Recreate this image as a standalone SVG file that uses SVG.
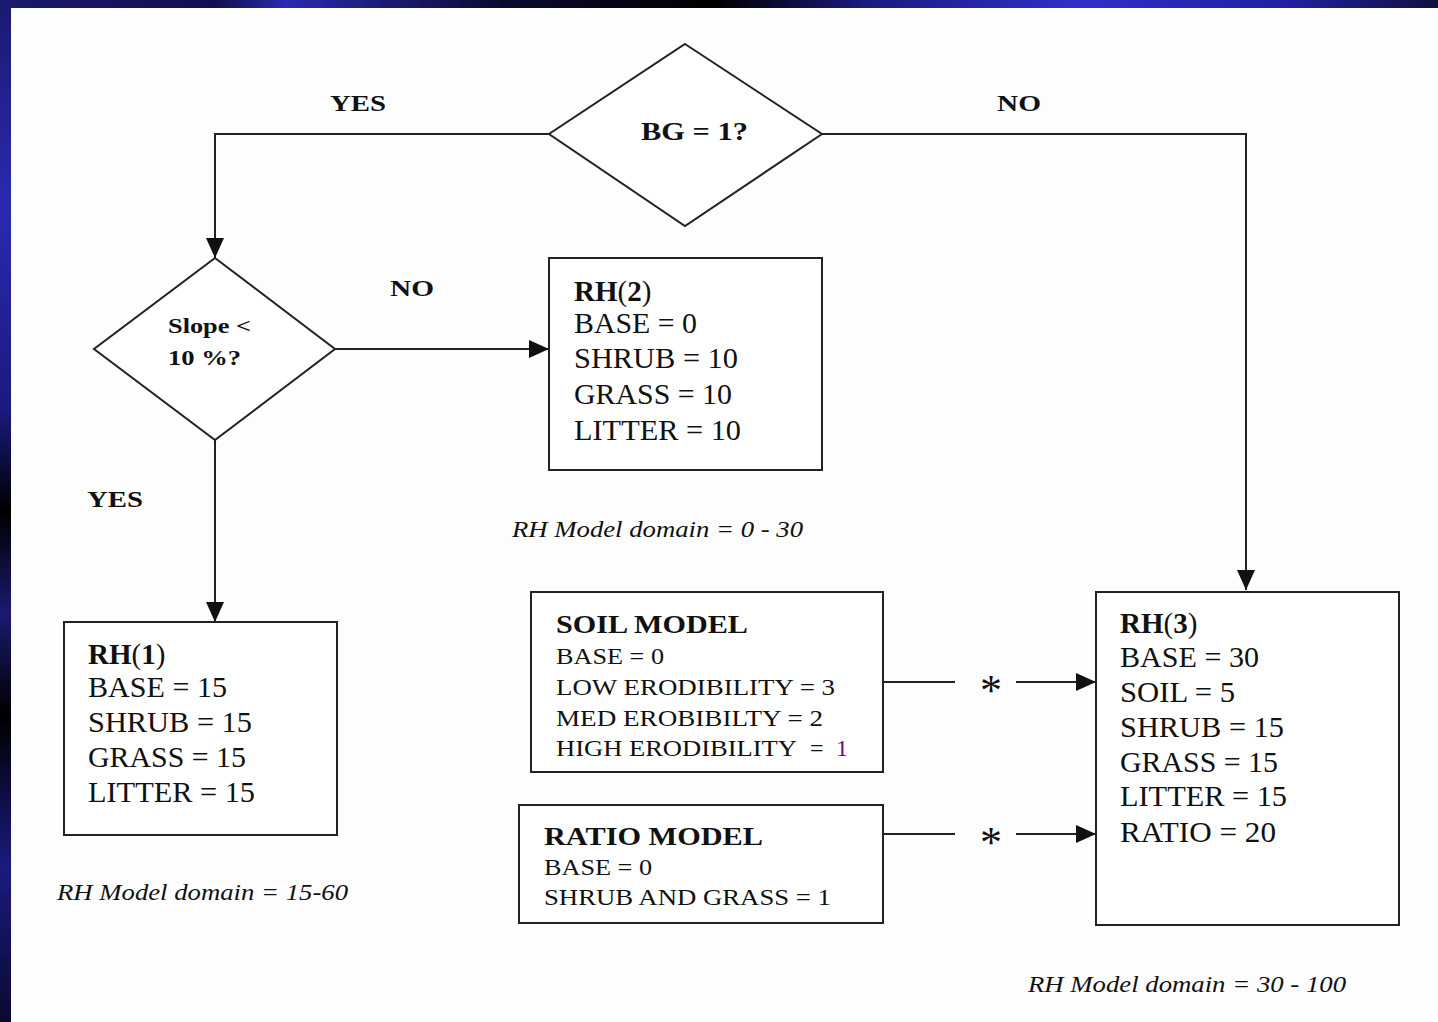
<svg xmlns="http://www.w3.org/2000/svg" width="1438" height="1022" viewBox="0 0 1438 1022">
<defs>
<linearGradient id="topg" x1="0" y1="0" x2="1" y2="0">
<stop offset="0" stop-color="#1a1a70"/><stop offset="0.15" stop-color="#101050"/><stop offset="0.2" stop-color="#2a2ab0"/><stop offset="0.35" stop-color="#0a0a30"/><stop offset="0.5" stop-color="#000"/><stop offset="0.6" stop-color="#1a1a80"/><stop offset="0.75" stop-color="#3030c8"/><stop offset="0.9" stop-color="#2020a0"/><stop offset="1" stop-color="#101040"/>
</linearGradient>
<linearGradient id="leftg" x1="0" y1="0" x2="0" y2="1">
<stop offset="0" stop-color="#1a1a70"/><stop offset="0.2" stop-color="#2a2ab0"/><stop offset="0.4" stop-color="#1a1a80"/><stop offset="0.5" stop-color="#000"/><stop offset="0.6" stop-color="#1a1a70"/><stop offset="0.7" stop-color="#000"/><stop offset="0.85" stop-color="#1a1a80"/><stop offset="1" stop-color="#0a0a30"/>
</linearGradient>
<marker id="ah" viewBox="0 0 20 18" refX="20" refY="9" markerWidth="20" markerHeight="18" markerUnits="userSpaceOnUse" orient="auto">
<path d="M0,0 L20,9 L0,18 Z" fill="#111"/>
</marker>
<style>
.ln{fill:none;stroke:#222;stroke-width:2}
.box{fill:#fff;stroke:#222;stroke-width:2}
.t{font-family:"Liberation Serif","Times New Roman",serif;fill:#111}
.b{font-weight:bold}
.rh{font-size:29px}
.sm{font-size:24px}
.lab{font-size:24px;font-weight:bold}
.ast{font-family:"Liberation Serif","Times New Roman",serif;font-size:44px;fill:#111}
.dom{font-family:"Liberation Serif","Times New Roman",serif;font-style:italic;font-size:24px;fill:#111}
</style>
</defs>
<rect x="0" y="0" width="1438" height="1022" fill="#fdfdfd"/>
<rect x="0" y="0" width="1438" height="8" fill="url(#topg)"/>
<rect x="0" y="0" width="11" height="1022" fill="url(#leftg)"/>

<g id="connectors">
<polyline class="ln" points="549,134 215,134 215,258" marker-end="url(#ah)"/>
<polyline class="ln" points="822,134 1246,134 1246,590" marker-end="url(#ah)"/>
<line class="ln" x1="335" y1="349" x2="549" y2="349" marker-end="url(#ah)"/>
<line class="ln" x1="215" y1="440" x2="215" y2="622" marker-end="url(#ah)"/>
<line class="ln" x1="883" y1="682" x2="955" y2="682"/>
<line class="ln" x1="1016" y1="682" x2="1096" y2="682" marker-end="url(#ah)"/>
<line class="ln" x1="883" y1="834" x2="955" y2="834"/>
<line class="ln" x1="1016" y1="834" x2="1096" y2="834" marker-end="url(#ah)"/>
<text class="ast" x="991" y="705" text-anchor="middle">*</text>
<text class="ast" x="991" y="857" text-anchor="middle">*</text>
<text class="t lab" x="330" y="111" textLength="56" lengthAdjust="spacingAndGlyphs">YES</text>
<text class="t lab" x="997" y="111" textLength="44" lengthAdjust="spacingAndGlyphs">NO</text>
<text class="t lab" x="390" y="296" textLength="44" lengthAdjust="spacingAndGlyphs">NO</text>
<text class="t lab" x="87" y="507" textLength="56" lengthAdjust="spacingAndGlyphs">YES</text>
</g>

<g id="bg-decision">
<polygon class="box" points="685,44 822,134 685,226 549,134"/>
<text class="t b" x="641" y="140" font-size="26" textLength="107" lengthAdjust="spacingAndGlyphs">BG = 1?</text>
</g>

<g id="slope-decision">
<polygon class="box" points="215,258 335,349 215,440 94,349"/>
<text class="t b" x="168" y="333" font-size="22" textLength="83" lengthAdjust="spacingAndGlyphs">Slope &lt;</text>
<text class="t b" x="168" y="365" font-size="22" textLength="73" lengthAdjust="spacingAndGlyphs">10 %?</text>
</g>

<g id="rh2">
<rect class="box" x="549" y="258" width="273" height="212"/>
<text class="t rh" x="574" y="301"><tspan font-weight="bold">RH</tspan>(<tspan font-weight="bold">2</tspan>)</text>
<text class="t rh" x="574" y="333" textLength="123" lengthAdjust="spacingAndGlyphs">BASE = 0</text>
<text class="t rh" x="574" y="368" textLength="164" lengthAdjust="spacingAndGlyphs">SHRUB = 10</text>
<text class="t rh" x="574" y="404" textLength="158" lengthAdjust="spacingAndGlyphs">GRASS = 10</text>
<text class="t rh" x="574" y="440" textLength="167" lengthAdjust="spacingAndGlyphs">LITTER = 10</text>
<text class="dom" x="512" y="537" textLength="291" lengthAdjust="spacingAndGlyphs">RH Model domain = 0 - 30</text>
</g>

<g id="rh1">
<rect class="box" x="64" y="622" width="273" height="213"/>
<text class="t rh" x="88" y="664"><tspan font-weight="bold">RH</tspan>(<tspan font-weight="bold">1</tspan>)</text>
<text class="t rh" x="88" y="697" textLength="139" lengthAdjust="spacingAndGlyphs">BASE = 15</text>
<text class="t rh" x="88" y="732" textLength="164" lengthAdjust="spacingAndGlyphs">SHRUB = 15</text>
<text class="t rh" x="88" y="767" textLength="158" lengthAdjust="spacingAndGlyphs">GRASS = 15</text>
<text class="t rh" x="88" y="802" textLength="167" lengthAdjust="spacingAndGlyphs">LITTER = 15</text>
<text class="dom" x="57" y="900" textLength="291" lengthAdjust="spacingAndGlyphs">RH Model domain = 15-60</text>
</g>

<g id="soil-model">
<rect class="box" x="531" y="592" width="352" height="180"/>
<text class="t b" x="556" y="633" font-size="26" textLength="192" lengthAdjust="spacingAndGlyphs">SOIL MODEL</text>
<text class="t sm" x="556" y="664" textLength="108" lengthAdjust="spacingAndGlyphs">BASE = 0</text>
<text class="t sm" x="556" y="695" textLength="279" lengthAdjust="spacingAndGlyphs">LOW ERODIBILITY = 3</text>
<text class="t sm" x="556" y="726" textLength="267" lengthAdjust="spacingAndGlyphs">MED EROBIBILTY = 2</text>
<text class="t sm" x="556" y="756" textLength="241" lengthAdjust="spacingAndGlyphs">HIGH ERODIBILITY</text>
<text class="t sm" x="810" y="756">=</text>
<text class="t sm" x="836" y="756" style="fill:#800080">1</text>
</g>

<g id="ratio-model">
<rect class="box" x="519" y="805" width="364" height="118"/>
<text class="t b" x="544" y="845" font-size="26" textLength="219" lengthAdjust="spacingAndGlyphs">RATIO MODEL</text>
<text class="t sm" x="544" y="875" textLength="108" lengthAdjust="spacingAndGlyphs">BASE = 0</text>
<text class="t sm" x="544" y="905" textLength="287" lengthAdjust="spacingAndGlyphs">SHRUB AND GRASS = 1</text>
</g>

<g id="rh3">
<rect class="box" x="1096" y="592" width="303" height="333"/>
<text class="t rh" x="1120" y="633"><tspan font-weight="bold">RH</tspan>(<tspan font-weight="bold">3</tspan>)</text>
<text class="t rh" x="1120" y="667" textLength="139" lengthAdjust="spacingAndGlyphs">BASE = 30</text>
<text class="t rh" x="1120" y="702" textLength="115" lengthAdjust="spacingAndGlyphs">SOIL = 5</text>
<text class="t rh" x="1120" y="737" textLength="164" lengthAdjust="spacingAndGlyphs">SHRUB = 15</text>
<text class="t rh" x="1120" y="772" textLength="158" lengthAdjust="spacingAndGlyphs">GRASS = 15</text>
<text class="t rh" x="1120" y="806" textLength="167" lengthAdjust="spacingAndGlyphs">LITTER = 15</text>
<text class="t rh" x="1120" y="842" textLength="156" lengthAdjust="spacingAndGlyphs">RATIO = 20</text>
<text class="dom" x="1028" y="992" textLength="318" lengthAdjust="spacingAndGlyphs">RH Model domain = 30 - 100</text>
</g>
</svg>
